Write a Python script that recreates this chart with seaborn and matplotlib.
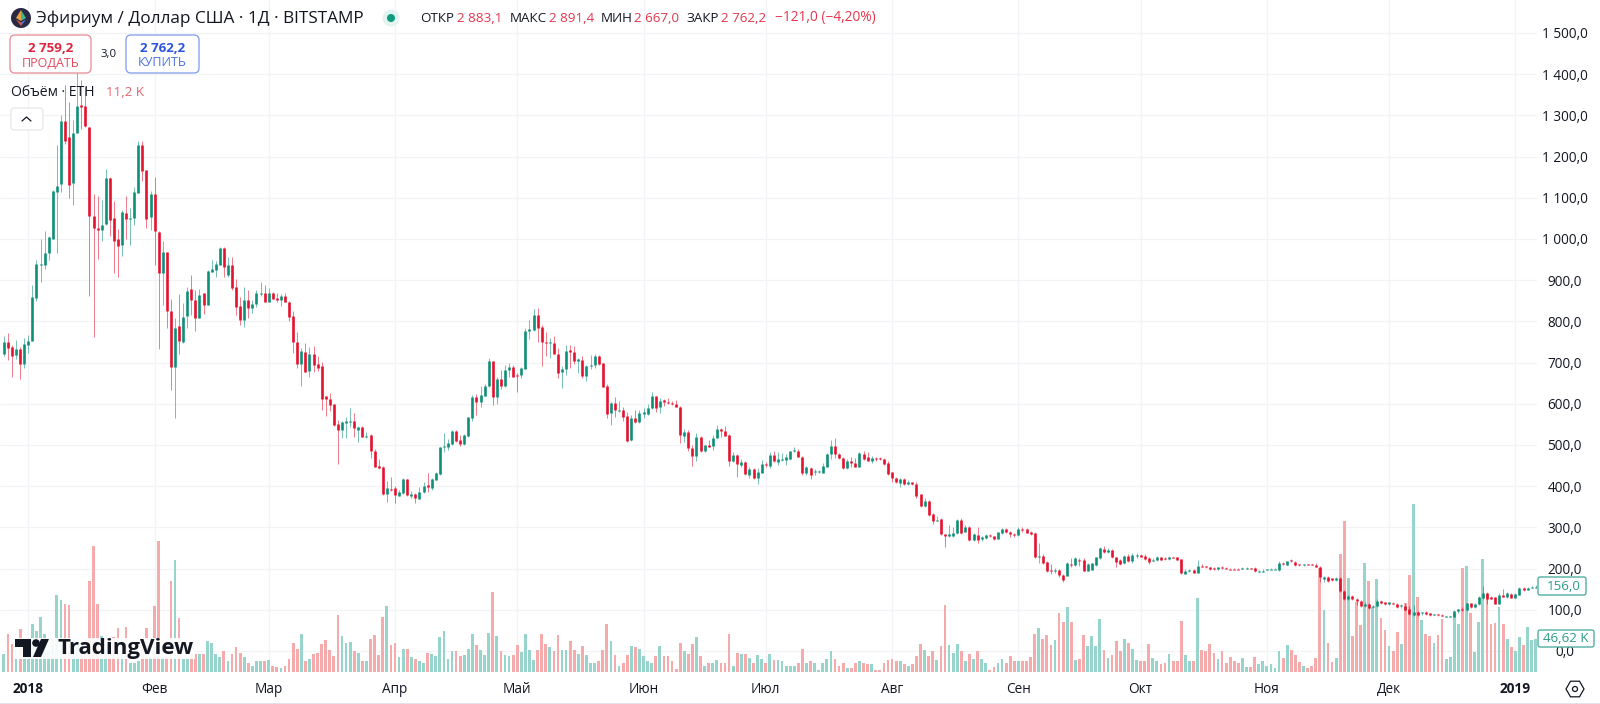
import numpy as np
import pandas as pd
import matplotlib
matplotlib.use("Agg")
import matplotlib.pyplot as plt
import seaborn as sns
from matplotlib.patches import FancyBboxPatch, Circle, Polygon, Rectangle, RegularPolygon

# Daily candles, 26 Dec 2017 - 6 Jan 2019
opens = [
    722,751,738,718,733,696,743,753,856,938, 938,965,1001,1115,1133,1287,1248,1137,1256,1325,
    1323,1271,1056,1027,1022,1036,1149,1051,999,985, 1062,1049,1052,1112,1228,1167,1053,1109,1018,917,
    968,824,690,789,751,813,878,852,809,868, 840,921,925,938,977,912,937,883,838,803,
    852,832,842,866,870,848,870,856,852,862, 848,813,750,697,726,680,721,696,692,618,
    612,599,551,536,555,556,559,536,544,521, 524,486,450,447,381,393,395,377,383,417,
    375,381,369,385,402,395,415,429,495,494, 502,534,511,502,522,565,617,604,620,642,
    704,616,659,642,682,690,671,670,685,777, 779,815,786,751,747,748,722,676,684,730,
    726,705,706,667,693,694,717,698,642,577, 603,583,585,571,512,566,555,574,575,589,
    619,591,608,605,603,600,593,522,531,493, 474,520,485,501,497,517,538,535,525,461,
    476,451,459,427,441,419,433,455,450,476, 458,466,464,466,485,486,472,431,444,435,
    434,433,447,478,498,478,468,443,462,456, 447,478,470,461,468,468,465,457,434,421,
    407,417,405,409,405,380,352,365,333,316, 320,284,278,280,286,318,290,302,270,282,
    271,274,282,278,272,287,295,290,284,282, 297,295,289,287,228,230,216,196,194,197,
    185,183,211,209,222,222,195,197,209,225, 247,240,245,227,221,213,231,219,232,233,
    231,225,221,221,228,225,223,227,228,223, 187,193,197,190,207,206,203,201,199,204,
    202,200,200,200,199,200,201,202,194,194, 197,199,199,197,213,209,221,217,210,208,
    211,210,209,205,174,179,177,172,177,146, 126,134,127,122,109,114,107,108,121,118,
    113,116,114,108,110,103,87,94,91,94, 91,88,89,87,83,83,83,96,103,99,
    116,107,114,128,140,132,130,114,137,130, 138,129,137,154,148,154,155,
]
highs = [
    764,771,743,756,739,759,768,888,949,999, 1020,1007,1119,1228,1300,1374,1333,1289,1403,1386,
    1370,1272,1109,1104,1094,1171,1151,1091,1023,1070, 1104,1074,1125,1238,1238,1168,1117,1151,1019,995,
    969,854,807,866,845,883,912,876,878,869, 925,950,947,980,981,957,957,904,860,883,
    876,852,876,896,889,880,872,868,866,868, 850,824,773,736,748,737,740,716,702,619,
    625,600,561,559,569,589,578,545,546,532, 527,490,465,449,413,422,400,391,419,418,
    388,383,397,411,431,421,435,496,528,515, 536,537,524,527,569,621,624,643,648,710,
    705,664,682,694,700,694,674,690,783,803, 830,832,790,775,759,765,735,692,742,743,
    740,711,717,694,718,722,719,700,648,605, 616,607,593,581,573,585,585,589,599,628,
    620,613,612,615,607,609,595,538,536,500, 528,523,501,512,524,548,540,546,526,482,
    478,465,462,447,443,443,464,458,484,486, 482,480,478,486,496,490,473,448,446,441,
    439,456,480,512,516,481,470,465,472,468, 484,485,484,473,471,472,468,460,435,423,
    421,419,415,411,409,381,371,366,334,328, 322,285,306,300,320,322,306,304,287,300,
    279,284,284,279,290,298,299,292,286,302, 300,298,292,290,261,235,218,210,202,198,
    186,215,225,227,225,225,213,214,229,253, 256,249,248,229,223,233,235,239,237,235,
    235,227,225,231,229,227,231,228,229,224, 198,199,199,221,211,207,205,203,205,206,
    203,201,201,201,203,203,202,203,196,199, 199,201,201,218,217,219,223,218,211,211,
    212,212,213,206,183,181,178,179,179,148, 137,137,129,124,118,117,112,125,124,120,
    120,118,116,113,117,109,112,98,95,96, 92,90,90,89,85,85,99,103,107,117,
    117,116,133,158,142,134,132,140,150,142, 141,140,156,156,155,157,160,
]
lows = [
    716,706,666,708,659,688,724,753,850,896, 926,950,1001,965,1115,1230,1099,1082,1256,1266,
    1271,862,763,951,996,1034,1008,917,907,959, 1001,985,1035,1111,1141,1027,1022,937,733,840,
    783,633,565,722,748,783,815,777,809,819, 840,920,908,936,907,908,876,815,791,787,
    807,820,836,862,847,846,854,847,837,846, 802,724,688,642,676,664,676,680,585,571,
    583,547,455,516,516,544,519,508,519,516, 468,446,441,379,362,389,360,375,381,375,
    371,360,368,383,387,391,414,427,484,488, 500,508,498,500,520,559,573,591,619,641,
    596,600,636,640,666,664,629,662,685,757, 777,751,692,717,710,722,663,639,671,686,
    697,674,662,656,684,688,694,640,565,548, 569,581,559,508,510,553,553,565,573,587,
    581,578,595,600,597,591,506,508,485,450, 462,484,484,494,488,516,519,522,450,459,
    423,447,427,421,417,405,431,446,443,458, 452,460,452,464,484,470,427,427,418,426,
    431,431,446,466,468,466,442,441,446,446, 446,464,460,457,462,464,452,427,409,407,
    397,403,403,403,371,349,350,328,308,315, 282,253,276,277,284,284,288,268,268,261,
    268,271,276,270,271,285,286,277,276,280, 288,286,282,225,213,211,191,187,189,180,
    168,182,205,207,207,193,194,197,207,223, 237,237,225,205,209,211,217,213,225,227,
    221,211,219,219,221,222,222,225,221,187, 186,191,189,189,203,202,197,197,197,199,
    199,198,198,198,198,198,199,192,192,192, 196,198,198,195,208,208,217,207,207,206,
    209,208,203,168,168,168,171,171,144,124, 124,124,112,106,106,103,105,106,113,111,
    112,113,105,105,97,87,85,86,88,87, 86,87,86,84,82,82,82,93,97,97,
    105,105,112,126,114,126,114,113,130,129, 128,128,136,146,147,153,152,
]
closes = [
    751,736,717,733,696,744,753,858,939,940, 967,1004,1117,1128,1287,1238,1132,1256,1323,1321,
    1274,1056,1027,1022,1034,1149,1046,995,984,1066, 1048,1051,1115,1228,1165,1049,1109,1020,918,968,
    824,690,783,753,811,874,852,809,864,840, 923,926,939,977,933,937,882,836,803,852,
    833,842,868,868,848,870,854,852,862,846, 811,751,697,728,678,721,694,686,612,612,
    597,549,536,555,557,558,540,543,520,522, 486,447,443,381,395,391,379,385,417,379,
    381,371,387,400,397,417,431,494,497,504, 534,510,502,524,567,617,604,621,644,704,
    616,660,642,682,690,666,669,687,777,781, 815,785,749,748,749,722,675,684,729,725,
    704,708,667,692,695,717,696,640,575,603, 585,585,569,510,565,555,577,579,590,619,
    589,607,605,603,599,593,524,531,492,474, 520,486,499,496,517,538,535,523,462,476,
    455,459,429,442,419,434,454,452,476,460, 466,467,470,485,487,472,431,446,427,437,
    437,450,478,498,477,468,443,461,456,447, 481,466,462,468,466,466,454,430,419,409,
    417,405,410,405,377,352,365,329,316,318, 284,278,283,286,318,286,302,270,284,270,
    277,282,278,273,288,296,290,284,281,295, 294,287,284,227,230,213,193,194,196,185,
    172,213,209,225,219,194,211,213,227,249, 240,245,227,217,210,231,219,233,234,229,
    223,215,222,229,221,223,227,226,221,189, 195,197,190,207,205,204,198,199,203,201,
    200,199,199,199,202,202,200,193,195,195, 198,200,200,213,210,218,219,209,208,210,
    210,209,205,179,179,171,172,177,146,126, 134,126,122,109,115,105,110,122,116,113,
    118,115,107,112,99,89,94,87,94,89, 87,89,87,85,84,84,98,101,99,116,
    107,114,132,140,126,127,114,137,132,140, 129,138,154,147,154,156,156,
]
# volume in thousands of ETH
volumes = [
    25,54,40,33,60,37,40,68,58,77, 53,30,48,109,102,96,95,45,42,33,
    33,128,178,96,50,33,45,49,62,45, 63,12,12,16,35,62,21,93,185,21,
    21,128,157,76,19,19,26,25,25,26, 44,41,25,21,29,16,26,35,27,21,
    12,9,16,15,16,17,8,7,5,9, 18,41,32,53,15,18,26,27,39,45,
    31,22,80,50,41,42,30,27,16,15, 46,52,24,78,93,38,41,21,32,32,
    21,19,16,12,27,26,22,49,58,18, 30,30,22,24,32,53,38,31,24,55,
    113,50,30,24,22,24,38,28,54,31, 17,31,54,39,35,30,52,31,31,44,
    31,25,36,24,13,12,15,31,68,43, 24,9,13,24,36,35,32,22,16,12,
    22,36,22,22,15,4,41,29,25,39, 49,22,8,12,13,17,13,13,53,8,
    27,26,25,20,12,24,18,12,26,17, 17,15,9,8,9,13,33,12,15,12,
    3,12,18,29,18,9,12,6,5,12, 16,12,11,11,3,3,12,17,18,15,
    16,11,8,11,22,39,31,22,30,17, 36,94,38,27,39,29,16,25,18,29,
    18,13,3,7,13,18,12,22,16,15, 15,15,21,54,62,47,52,38,45,83,
    71,91,71,17,18,52,36,50,36,74, 31,20,24,44,30,46,41,33,17,15,
    16,39,20,15,11,12,26,15,15,72, 24,15,15,104,31,30,39,27,18,29,
    12,21,16,13,20,7,7,21,11,15, 8,11,5,29,20,38,31,24,14,9,
    6,9,20,147,87,41,14,20,166,212, 132,50,99,66,154,128,92,131,76,59,
    36,30,56,39,97,137,236,105,73,54, 50,41,52,74,18,21,82,68,146,149,
    83,28,71,159,108,68,69,91,68,46, 35,29,49,38,63,45,46.62,
]

month_days = [0, 31, 59, 90, 120, 151, 181, 212, 243, 273, 304, 334, 365]
month_labels = ["2018", "Фев", "Мар", "Апр", "Май", "Июн", "Июл", "Авг", "Сен", "Окт", "Ноя", "Дек", "2019"]
price_ticks = list(range(0, 1600, 100))
price_labels = ["0,0", "100,0", "200,0", "300,0", "400,0", "500,0", "600,0", "700,0", "800,0", "900,0",
                "1 000,0", "1 100,0", "1 200,0", "1 300,0", "1 400,0", "1 500,0"]

GREEN = "#0E8F78"
RED = "#E3122F"
GREEN_VOL = "#97D4CB"
RED_VOL = "#F5ABAB"
GRID = "#F2F3F6"
TEXT = "#131722"

df = pd.DataFrame({"day": np.arange(-6, 371), "open": opens, "high": highs, "low": lows,
                   "close": closes, "volume": volumes})
df["side"] = np.where(df["close"] >= df["open"], "up", "down")

sns.set_theme(style="white")
plt.rcParams["font.family"] = ["Open Sans", "DejaVu Sans"]

fig = plt.figure(figsize=(16, 7.04), dpi=100)
rect = [0, 32 / 704, 1537 / 1600, 672 / 704]

# volume and grid sit under the candles
vol_ax = fig.add_axes(rect)
ax = fig.add_axes(rect, sharex=vol_ax)
ax.patch.set_visible(False)

sns.barplot(data=df, x="day", y="volume", hue="side", palette={"up": GREEN_VOL, "down": RED_VOL},
            native_scale=True, dodge=False, width=0.68, saturation=1, linewidth=0,
            errorbar=None, legend=False, ax=vol_ax, zorder=2)
vol_ax.set_ylim(0, 946)
vol_ax.set_yticks([])
vol_ax.set_xlabel("")
vol_ax.set_ylabel("")
vol_ax.tick_params(labelbottom=False, length=0)

ax.set_xlim(-6.95, 370.3)
ax.set_ylim(-51, 1580)

vol_ax.hlines(price_ticks, 0, 1, transform=ax.get_yaxis_transform(), colors=GRID, linewidth=0.9, zorder=1)
vol_ax.vlines(month_days, 0, 1, transform=vol_ax.get_xaxis_transform(), colors=GRID, linewidth=0.9, zorder=1)

# candles
colors = np.where(df["side"] == "up", GREEN, RED)
tops = df[["open", "close"]].max(axis=1)
bottoms = df[["open", "close"]].min(axis=1)
bottoms = np.where(tops - bottoms < 2.5, tops - 2.5, bottoms)
ax.vlines(df["day"], df["low"], df["high"], colors=colors, linewidth=0.72, alpha=0.55)
ax.vlines(df["day"], bottoms, tops, colors=colors, linewidth=1.9)

ax.set_xticks(month_days, month_labels)
ax.set_yticks(price_ticks, price_labels)
ax.yaxis.tick_right()
ax.tick_params(axis="both", length=0, labelcolor=TEXT, labelsize=9.8)
ax.tick_params(axis="x", pad=7)
ax.tick_params(axis="y", pad=20)
ax.set_xlabel("")
ax.set_ylabel("")
for lab in ax.get_yticklabels():
    lab.set_ha("center")
for lab in ax.get_xticklabels():
    if lab.get_text() in ("2018", "2019"):
        lab.set_fontweight("bold")
sns.despine(ax=ax, left=True, bottom=True, right=True, top=True)
sns.despine(ax=vol_ax, left=True, bottom=True, right=True, top=True)

# header, buttons and logo, in pixel coordinates
top = fig.add_axes([0, 0, 1, 1], zorder=5)
top.set_xlim(0, 1600)
top.set_ylim(704, 0)
top.axis("off")


def label(x, y, s, size=9.6, color=TEXT, ha="left", **kw):
    top.text(x, y, s, fontsize=size, color=color, ha=ha, va="center", **kw)


def button(x0, x1, edge):
    top.add_patch(FancyBboxPatch((x0 + 4, 39), x1 - x0 - 8, 30, boxstyle="round,pad=4,rounding_size=5",
                                 facecolor="white", edgecolor=edge, linewidth=0.9))


# symbol icon
top.add_patch(Circle((21, 18), 10, facecolor="#2B2A45", edgecolor="none"))
top.add_patch(Polygon([(21, 10), (16, 18), (21, 21)], facecolor="#E8A33B", edgecolor="none"))
top.add_patch(Polygon([(21, 10), (26, 18), (21, 21)], facecolor="#45B58E", edgecolor="none"))
top.add_patch(Polygon([(16, 19.5), (21, 26), (21, 22.5)], facecolor="#E8553B", edgecolor="none"))
top.add_patch(Polygon([(26, 19.5), (21, 26), (21, 22.5)], facecolor="#4A7BE0", edgecolor="none"))

label(36, 19, "Эфириум / Доллар США · 1Д · BITSTAMP", size=12.4)
top.add_patch(Circle((391, 18), 8.5, facecolor="#E3F3F0", edgecolor="none"))
top.add_patch(Circle((391, 18), 4, facecolor="#0E9B80", edgecolor="none"))

RED_TXT = "#E5354D"
for x, s in [(420, "ОТКР"), (510, "МАКС"), (601, "МИН"), (686, "ЗАКР")]:
    label(x, 18, s, size=9.6)
for x, s in [(457, "2 883,1"), (549, "2 891,4"), (634, "2 667,0"), (721, "2 762,2")]:
    label(x, 18, s, size=9.6, color=RED_TXT)
label(775, 18, "−121,0 (−4,20%)", size=9.9, color=RED_TXT)

button(10, 91, "#E98A95")
label(50.5, 48, "2 759,2", size=9.6, color="#E0243F", ha="center", fontweight="bold")
label(50.5, 63, "ПРОДАТЬ", size=9, color="#E5485C", ha="center")
label(109, 54, "3,0", size=8.2, ha="center")
button(126, 199, "#7F9BEB")
label(162.5, 48, "2 762,2", size=9.6, color="#2B55DE", ha="center", fontweight="bold")
label(162.5, 63, "КУПИТЬ", size=9, color="#4A70E4", ha="center")

label(11, 92, "Объём · ETH", size=10.1)
label(106, 92, "11,2 K", size=9.6, color="#E5646F")
top.add_patch(FancyBboxPatch((14, 111), 26, 16, boxstyle="round,pad=3,rounding_size=3",
                             facecolor="white", edgecolor="#E6E7EA", linewidth=0.9))
top.plot([22, 26.5, 31], [121, 117, 121], color=TEXT, linewidth=0.9)

# last value tags
top.add_patch(FancyBboxPatch((1539, 578), 46, 16, boxstyle="round,pad=1,rounding_size=2",
                             facecolor="white", edgecolor="#3FA796", linewidth=0.9))
label(1564, 586, "156,0", color="#2B9A87", ha="center")
top.add_patch(FancyBboxPatch((1539, 631), 54, 15, boxstyle="round,pad=1,rounding_size=2",
                             facecolor="white", edgecolor="#3FA796", linewidth=0.9))
label(1566, 638.5, "46,62 K", color="#2B9A87", ha="center")

# TradingView watermark
top.add_patch(Rectangle((13, 638), 182, 21, facecolor="white", edgecolor="none", alpha=0.9))
top.add_patch(Polygon([(15, 639), (31, 639), (31, 657), (23, 657), (23, 647), (15, 647)],
                      facecolor="#131722", edgecolor="none"))
top.add_patch(Circle((36, 643), 3.8, facecolor="#131722", edgecolor="none"))
top.add_patch(Polygon([(41, 639), (49, 639), (41, 657), (33, 657)], facecolor="#131722", edgecolor="none"))
label(58, 648.5, "TradingView", size=16, fontweight="bold")

# settings icon and bottom edge
top.add_patch(RegularPolygon((1575, 689), 6, radius=9, orientation=np.pi / 2, facecolor="none",
                             edgecolor=TEXT, linewidth=0.9))
top.add_patch(Circle((1575, 689), 2.5, facecolor="none", edgecolor=TEXT, linewidth=0.9))
top.add_patch(Rectangle((0, 702.5), 1600, 1.5, facecolor="#E0E3EB", edgecolor="none"))

fig.savefig("out.png", dpi=100)
